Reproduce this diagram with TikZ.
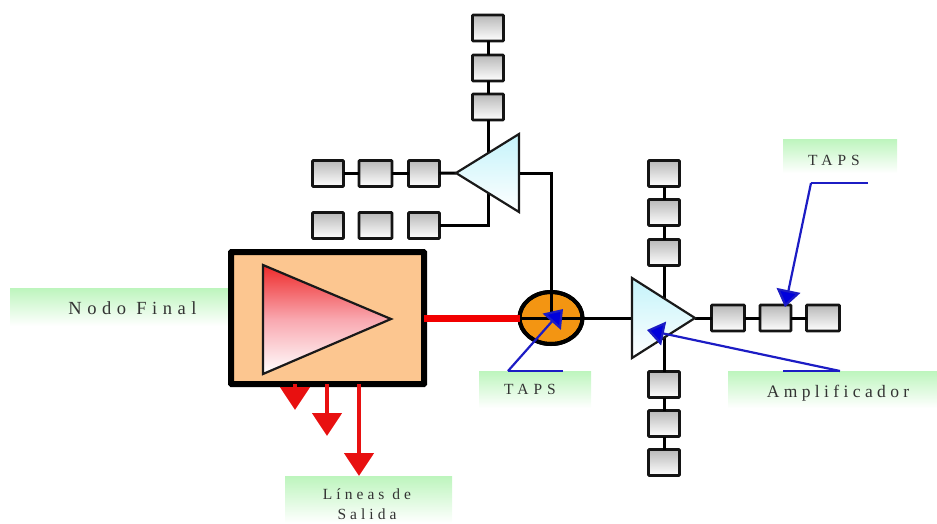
\documentclass[tikz,border=0pt]{standalone}
\usepackage{fontspec}
\setmainfont{Liberation Serif}
\newfontfamily\labnodo[LetterSpace=30]{Liberation Serif}
\newfontfamily\labamp[LetterSpace=25]{Liberation Serif}
\newfontfamily\labtaps[LetterSpace=32]{Liberation Serif}
\newfontfamily\lablin[LetterSpace=26]{Liberation Serif}
\usetikzlibrary{arrows.meta,shapes.geometric}
\definecolor{bandgreen}{HTML}{BDF5BD}
\definecolor{boxgrey}{HTML}{B8B8B8}
\definecolor{ampcyan}{HTML}{C4F3FA}
\definecolor{peach}{HTML}{FCC690}
\definecolor{tapor}{HTML}{F39512}
\definecolor{linered}{HTML}{E81010}
\definecolor{lineblue}{HTML}{1C1CC4}
\definecolor{headblue}{HTML}{0000DC}
\definecolor{ampred}{HTML}{EE2A2A}
\definecolor{amppink}{HTML}{F9A8B0}
\tikzset{
  tapbox/.style={draw=black!92,line width=2.8pt,rounded corners=0.8pt,top color=boxgrey,bottom color=white,minimum width=31pt,minimum height=26pt,inner sep=0pt,outer sep=0pt},
  wire/.style={draw=black,line width=3pt},
  amp/.style={draw=black!90,line width=2.2pt,line join=miter,top color=ampcyan,bottom color=white},
  band/.style={top color=bandgreen,bottom color=white,draw=none,inner sep=0pt,outer sep=0pt},
  labeltext/.style={text=black!80,inner sep=0pt,align=center},
  outarrow/.style={draw=linered,line width=4.7pt,-{Triangle[length=23pt,width=29pt,fill=linered]}},
  callout/.style={draw=lineblue,line width=2.2pt,line join=miter},
  calloutarrow/.style={callout,-{Triangle[length=17pt,width=24pt,fill=headblue]}}
}
\begin{document}
\begin{tikzpicture}[x=1pt,y=-1pt]
\useasboundingbox (0,0) rectangle (937,523);
% label bands
\node[band,minimum width=218pt,minimum height=38pt] (bandNodo) at (119,307) {};
\node[band,minimum width=167pt,minimum height=47pt] (bandLineas) at (368.5,499.5) {};
\node[band,minimum width=112pt,minimum height=37pt] (bandTapsLow) at (535,389.5) {};
\node[band,minimum width=114pt,minimum height=34pt] (bandTapsUp) at (840,156) {};
\node[band,minimum width=209pt,minimum height=37pt] (bandAmp) at (832.5,389.5) {};
% upper branch boxes
\node[tapbox] (t1) at (488,28) {};
\node[tapbox] (t2) at (488,68) {};
\node[tapbox] (t3) at (488,107) {};
\node[tapbox] (l1) at (328,173.5) {};
\node[tapbox,minimum width=33pt] (l2) at (375.5,173.5) {};
\node[tapbox] (l3) at (424,173.5) {};
\node[tapbox] (m1) at (328,225.5) {};
\node[tapbox,minimum width=33pt] (m2) at (375.5,225.5) {};
\node[tapbox] (m3) at (424,225.5) {};
% upper amplifier geometry
\coordinate (aApex) at (456,173);
\coordinate (aTop) at (519,134);
\coordinate (aBot) at (519,212);
\coordinate (aOut) at (519,173);
\coordinate (aUp) at (488,153);
\coordinate (aDown) at (488,193);
% right branch boxes
\node[tapbox] (u1) at (664,173.5) {};
\node[tapbox] (u2) at (664,212.5) {};
\node[tapbox] (u3) at (664,252.5) {};
\node[tapbox] (d1) at (664,384.5) {};
\node[tapbox] (d2) at (664,423.5) {};
\node[tapbox] (d3) at (664,462.5) {};
\node[tapbox,minimum width=33pt] (r1) at (728,318) {};
\node[tapbox] (r2) at (775.5,318) {};
\node[tapbox,minimum width=33pt] (r3) at (823,318) {};
% right amplifier geometry
\coordinate (bTop) at (632,278);
\coordinate (bBot) at (632,358);
\coordinate (bApex) at (695,318);
\coordinate (bIn) at (632,318);
\coordinate (bUp) at (664,298);
\coordinate (bDown) at (664,338);
% main node and splitter
\node[draw=black,line width=6pt,fill=peach,minimum width=193pt,minimum height=132pt,inner sep=0pt,outer sep=0pt,rounded corners=0.5pt] (final) at (327.5,318) {};
\node[draw=black,line width=4pt,fill=tapor,minimum width=63pt,minimum height=52pt,inner sep=0pt,outer sep=0pt,ellipse] (split) at (551,318) {};
% wires
\draw[wire] (t1) -- (t2);
\draw[wire] (t2) -- (t3);
\draw[wire] (t3) -- (aUp);
\draw[wire] (l1) -- (l2);
\draw[wire] (l2) -- (l3);
\draw[wire] (l3) -- (aApex);
\draw[wire] (m3.east) -| (aDown);
\draw[wire] (aOut) -| (split.center);
\draw[wire] (u1) -- (u2);
\draw[wire] (u2) -- (u3);
\draw[wire] (u3) -- (bUp);
\draw[wire] (bDown) -- (d1);
\draw[wire] (d1) -- (d2);
\draw[wire] (d2) -- (d3);
\draw[wire] (bApex) -- (r1);
\draw[wire] (r1) -- (r2);
\draw[wire] (r2) -- (r3);
\draw[wire] (split.west) -- (bIn);
\draw[draw=black,line width=4pt] (split.center) ellipse[x radius=31.5pt,y radius=26pt];
% amplifiers
\path[amp] (aApex) -- (aTop) -- (aBot) -- cycle;
\path[amp] (bTop) -- (bApex) -- (bBot) -- cycle;
\coordinate (fTop) at (263,265);
\coordinate (fBot) at (263,374);
\coordinate (fApex) at (391,319);
\path[draw=black!90,line width=2.2pt,top color=ampred,bottom color=white,middle color=amppink] (fTop) -- (fApex) -- (fBot) -- cycle;
% red connectors
\draw[draw=red!95!black,line width=7pt] (final.east) -- (split.west);
\coordinate (o1) at (295,410);
\coordinate (o2) at (327,436);
\coordinate (o3) at (359,476);
\draw[outarrow] (final.south -| o1) -- (o1);
\draw[outarrow] (final.south -| o2) -- (o2);
\draw[outarrow] (final.south -| o3) -- (o3);
% callouts
\coordinate (c1a) at (563,371);
\coordinate (c1b) at (508,371);
\coordinate (c1c) at (563,309);
\draw[callout] (c1a) -- (c1b);
\draw[calloutarrow] (c1b) -- (c1c);
\coordinate (c2a) at (868,183);
\coordinate (c2b) at (811,183);
\coordinate (c2c) at (785,307);
\draw[callout] (c2a) -- (c2b);
\draw[calloutarrow] (c2b) -- (c2c);
\coordinate (c3a) at (783,371);
\coordinate (c3b) at (840,371);
\coordinate (c3c) at (647,330);
\draw[callout] (c3a) -- (c3b);
\draw[calloutarrow] (c3b) -- (c3c);
% label text
\node[labeltext,font=\labnodo\fontsize{18.5}{22}\selectfont] (tNodo) at (132.5,308) {Nodo Final};
\node[labeltext,font=\lablin\fontsize{15.5}{20}\selectfont] (tLineas) at (367,504) {Líneas de\\Salida};
\node[labeltext,font=\labtaps\fontsize{15.5}{18}\selectfont] (tTapsLow) at (530,389.5) {TAPS};
\node[labeltext,font=\labtaps\fontsize{15.5}{18}\selectfont] (tTapsUp) at (834,160) {TAPS};
\node[labeltext,font=\labamp\fontsize{17.5}{21}\selectfont] (tAmp) at (838,393) {Amplificador};
\end{tikzpicture}
\end{document}
